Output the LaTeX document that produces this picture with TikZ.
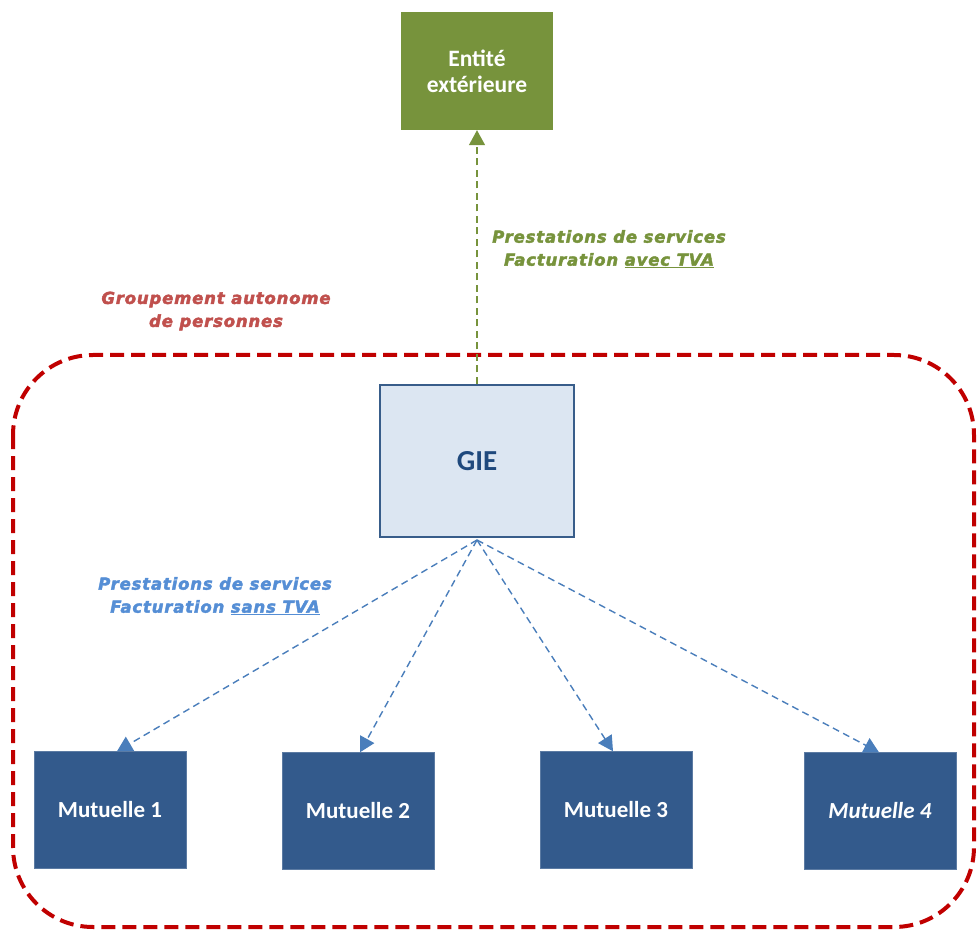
\documentclass[tikz,border=0pt]{standalone}
\usepackage{fontspec}
\setmainfont{Carlito}
\newfontfamily\labelfont{DejaVu Sans Bold Oblique}[FakeBold=2.5,LetterSpace=5]
\usetikzlibrary{arrows.meta,positioning}
\definecolor{olivegreen}{HTML}{77933C}
\definecolor{gieblue}{HTML}{DCE6F2}
\definecolor{gieborder}{HTML}{385D8A}
\definecolor{gietext}{HTML}{1F497D}
\definecolor{mutblue}{HTML}{335A8C}
\definecolor{arrowblue}{HTML}{4A7EBB}
\definecolor{lightblue}{HTML}{558ED5}
\definecolor{groupred}{HTML}{C00000}
\definecolor{labelred}{HTML}{C0504D}
\begin{document}
\begin{tikzpicture}[x=1pt,y=-1pt,
	mutbox/.style={fill=mutblue,draw=mutblue!80!white,minimum width=152pt,minimum height=117pt,inner sep=0pt,text=white,font=\bfseries\fontsize{23}{28}\selectfont},
	flowlabel/.style={align=center,font=\labelfont\fontsize{16.5}{23}\selectfont},
	flowarrow/.style={dash pattern=on 7pt off 4.5pt,line width=1.4pt,-{Triangle[width=16pt,length=15pt]}}]
	\useasboundingbox (0,0) rectangle (978,933);
	% groupement - dashed red frame
	\draw[groupred,line width=4pt,dash pattern=on 14pt off 7pt,rounded corners=80pt] (13,355) rectangle (974,927);
	\node[flowlabel,text=labelred] (grouplbl) at (216,311) {Groupement autonome\\de personnes};
	% external entity
	\node[fill=olivegreen,minimum width=152pt,minimum height=118pt,inner sep=0pt,text=white,align=center,
		font=\bfseries\fontsize{23.5}{26}\selectfont] (ext) at (477,71) {Entité\\extérieure};
	% GIE
	\node[fill=gieblue,draw=gieborder,line width=2pt,minimum width=194pt,minimum height=152pt,inner sep=0pt,
		text=gietext,font=\bfseries\fontsize{29}{34}\selectfont] (gie) at (477,461) {GIE};
	% mutuelles
	\node[mutbox] (mut1) at (110,810) {Mutuelle 1};
	\node[mutbox] (mut2) at (358,811) {Mutuelle 2};
	\node[mutbox] (mut3) at (616,810) {Mutuelle 3};
	\node[mutbox] (mut4) at (880,811) {\itshape Mutuelle 4};
	% services to the outside
	\draw[flowarrow,olivegreen] (gie.north) -- (ext.south);
	\node[flowlabel,text=olivegreen] (extlbl) at (609,249) {Prestations de services\\Facturation \underline{avec TVA}};
	% services to the members
	\coordinate (giebot) at (477,540);
	\foreach \m/\dx in {mut1/7,mut2/2,mut3/-3,mut4/-1}
		\draw[flowarrow,arrowblue] (giebot) -- ([xshift=\dx pt]\m.north);
	\node[flowlabel,text=lightblue] (mutlbl) at (215,596) {Prestations de services\\Facturation \underline{sans TVA}};
\end{tikzpicture}
\end{document}
